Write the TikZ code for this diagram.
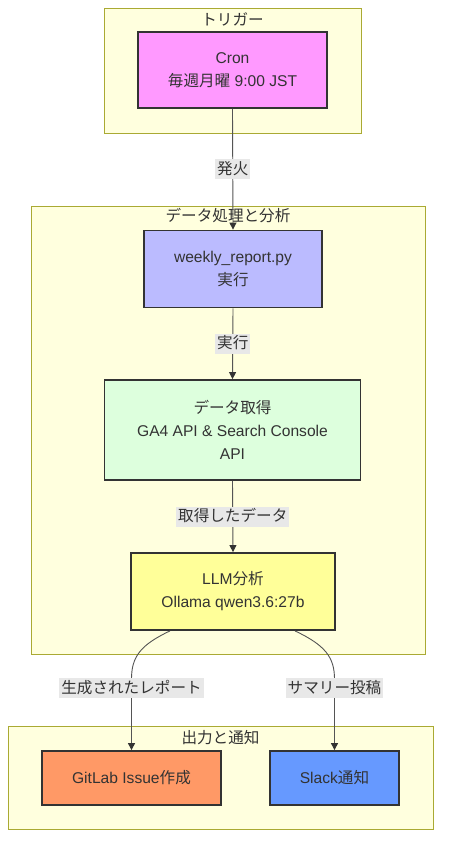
\documentclass[tikz,border=0pt]{standalone}
\usepackage{fontspec}
\setmainfont{Liberation Sans}
\newfontfamily\jp{Noto Sans CJK JP}
\usetikzlibrary{arrows.meta,calc}
\definecolor{txt}{HTML}{333333}
\definecolor{clfill}{HTML}{FFFFDE}
\definecolor{cldraw}{HTML}{AAAA33}
\definecolor{cronc}{HTML}{FF99FF}
\definecolor{weekc}{HTML}{BBBBFF}
\definecolor{datac}{HTML}{DDFFDD}
\definecolor{llmc}{HTML}{FFFF99}
\definecolor{gitc}{HTML}{FF9966}
\definecolor{slackc}{HTML}{6699FF}
\definecolor{lblc}{HTML}{E8E8E8}
\definecolor{edgec}{HTML}{555555}
\begin{document}
\begin{tikzpicture}[x=1pt,y=-1pt,
  every node/.style={text=txt,font=\fontsize{15.6}{23}\selectfont},
  cluster/.style={draw=cldraw,fill=clfill,line width=1pt},
  cltitle/.style={inner sep=0pt,anchor=center},
  box/.style={draw=txt,line width=1.8pt,align=center,inner sep=0pt},
  elabel/.style={fill=lblc,inner sep=2pt,text depth=3pt,text height=13pt},
  flow/.style={draw=edgec,line width=0.9pt,-{Triangle[length=7pt,width=7pt,color=txt]}}
]
\useasboundingbox (0,0) rectangle (449,852);
\fill[white] (0,0) rectangle (449,852);
% clusters
\draw[cluster] (104,8) rectangle (361,133);
\node[cltitle] (t1) at (232.5,19) {\jp トリガー};
\draw[cluster] (31,206) rectangle (425,654);
\node[cltitle] (t2) at (228,216) {\jp データ処理と分析};
\draw[cluster] (8,726) rectangle (433,829);
\node[cltitle] (t3) at (220.5,738) {\jp 出力と通知};
% nodes
\node[box,fill=cronc,minimum width=189pt,minimum height=76pt] (cron) at (232.5,70)
  {Cron\\{\jp 毎週月曜} 9:00 JST};
\node[box,fill=weekc,minimum width=178pt,minimum height=77pt] (week) at (233,269)
  {weekly\_report.py\\{\jp 実行}};
\node[box,fill=datac,minimum width=256pt,minimum height=100pt] (data) at (232.5,430)
  {{\jp データ取得}\\GA4 API \& Search Console\\API};
\node[box,fill=llmc,minimum width=204pt,minimum height=77pt] (llm) at (233,591.5)
  {LLM{\jp 分析}\\Ollama qwen3.6:27b};
\node[box,fill=gitc,minimum width=179pt,minimum height=54pt] (git) at (131.5,778)
  {GitLab Issue{\jp 作成}};
\node[box,fill=slackc,minimum width=129pt,minimum height=54pt] (slack) at (334.5,778)
  {Slack{\jp 通知}};
% edges
\draw[flow] (cron.south) -- node[elabel] {\jp 発火} (week.north);
\draw[flow] (week.south) -- node[elabel] {\jp 実行} (data.north);
\draw[flow] (data.south) -- node[elabel] {\jp 取得したデータ} (llm.north);
\coordinate (l1) at ($(llm.south)+(-63,0)$);
\coordinate (l2) at ($(llm.south)+(62,0)$);
\draw[flow] (l1) .. controls ($(git.north)+(8.5,-105)$) and ($(git.north)+(0,-93)$) .. ($(git.north)+(0,-71)$) -- (git.north);
\draw[flow] (l2) .. controls ($(slack.north)+(-9.5,-105)$) and ($(slack.north)+(0,-93)$) .. ($(slack.north)+(0,-71)$) -- (slack.north);
\node[elabel] (lb1) at ($(git.north)+(0,-62)$) {\jp 生成されたレポート};
\node[elabel] (lb2) at ($(slack.north)+(0,-62)$) {\jp サマリー投稿};
\end{tikzpicture}
\end{document}
